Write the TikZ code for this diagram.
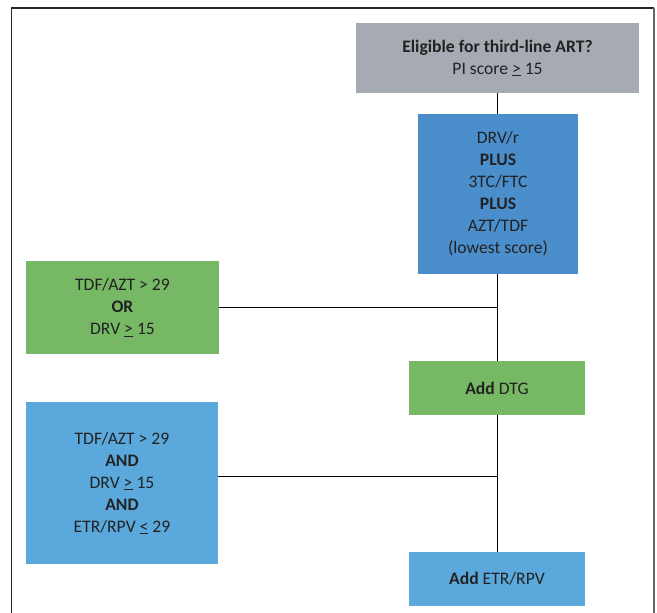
\documentclass[tikz,border=0pt]{standalone}
\usepackage{fontspec}
\setmainfont{Carlito}
\begin{document}
\begin{tikzpicture}[x=1pt,y=-1pt,
  txt/.style={text=textc,font=\fontsize{17.6}{22}\selectfont,align=center,inner sep=0pt},
  box/.style={txt,rectangle,anchor=center},
  conn/.style={draw=black,line width=1pt}]
\definecolor{textc}{HTML}{222222}
\definecolor{grayb}{HTML}{A6AAB2}
\definecolor{blueA}{HTML}{4A8ECC}
\definecolor{greenb}{HTML}{77B865}
\definecolor{blueB}{HTML}{5BA9DC}
\useasboundingbox (0,0) rectangle (657,613);
% frame
\draw[line width=1.2pt,draw=black!85] (11.7,613) -- (11.7,8) -- (654,8);
\draw[line width=1.8pt,draw=black!60] (654,8) -- (654,613);
% nodes
\node[box,fill=grayb,minimum width=283,minimum height=70] (q) at (497.5,58) {\textbf{Eligible for third-line ART?}\\PI score \underline{>} 15};
\node[box,fill=blueA,minimum width=160,minimum height=160] (r1) at (498,194) {DRV/r\\\textbf{PLUS}\\3TC/FTC\\\textbf{PLUS}\\AZT/TDF\\(lowest score)};
\node[box,fill=greenb,minimum width=193,minimum height=93] (c1) at (122.5,307.5) {TDF/AZT > 29\\\textbf{OR}\\DRV \underline{>} 15};
\node[box,fill=greenb,minimum width=176,minimum height=54] (dtg) at (497,388) {\textbf{Add} DTG};
\node[box,fill=blueB,minimum width=192,minimum height=162] (c2) at (122,483) {TDF/AZT > 29\\\textbf{AND}\\DRV \underline{>} 15\\\textbf{AND}\\ETR/RPV \underline{<} 29};
\node[box,fill=blueB,minimum width=176,minimum height=54] (etr) at (497,579) {\textbf{Add} ETR/RPV};
\coordinate (j1) at (497,307.5);
\coordinate (j2) at (497,476);
% connectors
\draw[conn] (q.south -| 497,0) -- (r1.north -| 497,0);
\draw[conn] (r1.south -| 497,0) -- (dtg.north);
\draw[conn] (dtg.south) -- (etr.north);
\draw[conn] (c1.east) -- (j1);
\draw[conn] (c2.east |- j2) -- (j2);
\end{tikzpicture}
\end{document}
